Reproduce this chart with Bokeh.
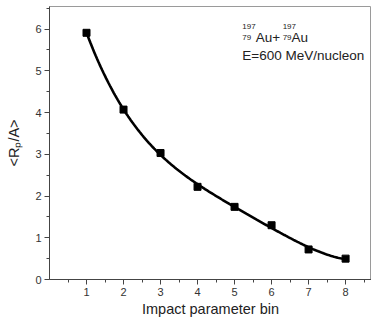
import numpy as np
from bokeh.plotting import figure
from bokeh.models import FixedTicker, Label, Range1d
from bokeh.embed import file_html
from bokeh.resources import INLINE

# Data
bins = [1, 2, 3, 4, 5, 6, 7, 8]
rp_a = [5.91, 4.07, 3.03, 2.22, 1.74, 1.30, 0.72, 0.50]
x_ticks = [1, 2, 3, 4, 5, 6, 7, 8]
y_ticks = [0, 1, 2, 3, 4, 5, 6]

FONT = "Liberation Sans"

p = figure(width=371, height=319, output_backend="svg", toolbar_location=None,
           x_range=Range1d(0, 8.7), y_range=Range1d(0, 6.54),
           min_border_left=49, min_border_right=0, min_border_top=6, min_border_bottom=38)
p.grid.visible = False
p.outline_line_color = "#9a9a9a"
p.outline_line_width = 1
p.background_fill_color = "white"
p.border_fill_color = "white"

# smooth fitted curve through the data
coef = np.polyfit(bins, rp_a, 4)
xs = np.linspace(bins[0], bins[-1], 200)
p.line(xs, np.polyval(coef, xs), line_color="black", line_width=2.6)
p.scatter(bins, rp_a, marker="square", size=7, color="black")

for ax in (p.xaxis[0], p.yaxis[0]):
    ax.axis_line_color = "#444444"
    ax.major_tick_line_color = "#444444"
    ax.minor_tick_line_color = "#444444"
    ax.major_tick_in = 0
    ax.major_tick_out = 5
    ax.minor_tick_in = 0
    ax.minor_tick_out = 3
    ax.major_label_text_font = FONT
    ax.major_label_text_font_size = "11px"
    ax.major_label_text_color = "#333333"
    ax.axis_label_text_font = FONT
    ax.axis_label_text_font_size = "14.5px"
    ax.axis_label_text_font_style = "normal"
    ax.axis_label_text_color = "#222222"

p.xaxis.ticker = FixedTicker(ticks=x_ticks, minor_ticks=[i + 0.5 for i in range(0, 9)])
p.yaxis.ticker = FixedTicker(ticks=y_ticks, minor_ticks=[i + 0.5 for i in range(0, 7)])
p.xaxis.axis_label = "Impact parameter bin"
p.yaxis.axis_label = "<Rₚ/A>"
p.xaxis.major_label_standoff = 3
p.xaxis.axis_label_standoff = 2
p.yaxis.major_label_standoff = 3
p.yaxis.axis_label_standoff = 10

# reaction annotation
big = "13.5px"
small = "8px"
for x0 in (5.21, 6.30):
    p.add_layout(Label(x=x0, y=6.05, text="197", text_font=FONT, text_font_size=small,
                       text_color="#222222", text_baseline="alphabetic"))
    p.add_layout(Label(x=x0, y=5.80, text="79", text_font=FONT, text_font_size=small,
                       text_color="#222222", text_baseline="alphabetic"))
p.add_layout(Label(x=5.57, y=5.79, text="Au+", text_font=FONT, text_font_size=big,
                   text_color="#222222", text_baseline="alphabetic"))
p.add_layout(Label(x=6.54, y=5.79, text="Au", text_font=FONT, text_font_size=big,
                   text_color="#222222", text_baseline="alphabetic"))
p.add_layout(Label(x=5.21, y=5.37, text="E=600 MeV/nucleon", text_font=FONT,
                   text_font_size=big, text_color="#222222", text_baseline="alphabetic"))

open("out.html", "w").write(file_html(p, INLINE))
